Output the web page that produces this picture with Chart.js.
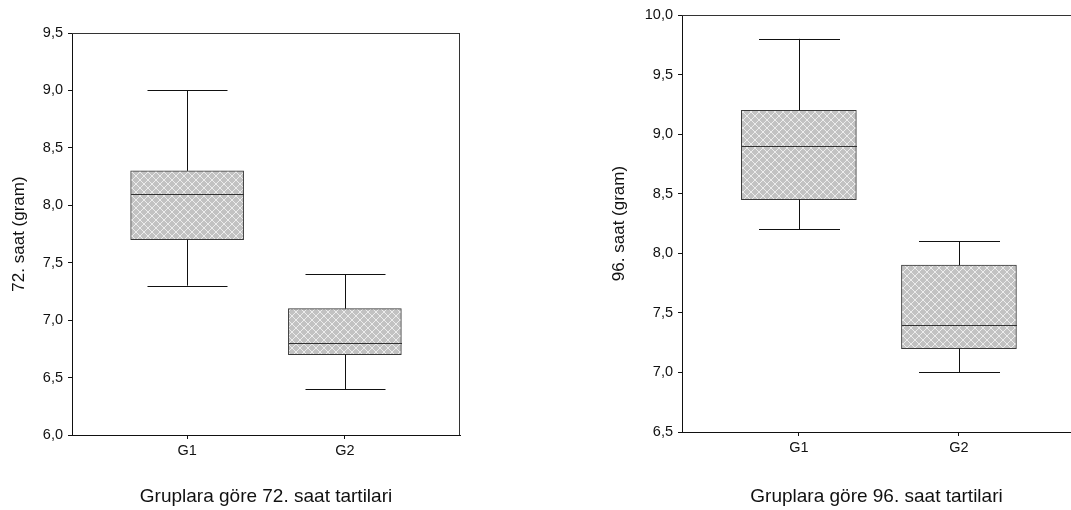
<!DOCTYPE html>
<html>
<head>
<meta charset="utf-8">
<script src="https://cdn.jsdelivr.net/npm/chart.js@4/dist/chart.umd.min.js"></script>
<style>
  html, body { margin: 0; padding: 0; background: #fff; overflow: hidden; }
  #wrap { position: relative; width: 1071px; height: 510px; }
  canvas { position: absolute; top: 0; }
  #left72 { left: 0; }
  #right96 { left: 535px; }
</style>
</head>
<body>
<div id="wrap">
  <canvas id="left72" width="535" height="510"></canvas>
  <canvas id="right96" width="536" height="510"></canvas>
</div>
<script>
// groups on the x axis
const groups = ["G1", "G2"];
const groupPos = [1, 2];

// 72. saat box plot values
const h72Min = [7.3, 6.4];
const h72Q1 = [7.7, 6.7];
const h72Median = [8.1, 6.8];
const h72Q3 = [8.3, 7.1];
const h72Max = [9.0, 7.4];

// 96. saat box plot values
const h96Min = [8.2, 7.0];
const h96Q1 = [8.45, 7.2];
const h96Median = [8.9, 7.4];
const h96Q3 = [9.2, 7.9];
const h96Max = [9.8, 8.1];

const fontFamily = "'Liberation Sans', Arial, sans-serif";

function makeHatch() {
  const c = document.createElement("canvas");
  c.width = 8;
  c.height = 8;
  const g = c.getContext("2d");
  g.fillStyle = "#c2c2c2";
  g.fillRect(0, 0, 8, 8);
  g.fillStyle = "#ececec";
  for (let i = 0; i < 8; i++) {
    g.fillRect(i, i, 1, 1);
    g.fillRect(7 - i, i, 1, 1);
  }
  return g.createPattern(c, "repeat");
}

const fmt = (v) => v.toFixed(1).replace(".", ",");

// whiskers, caps, medians and the plot frame
const boxExtras = {
  id: "boxExtras",
  afterDatasetsDraw(chart, args, opts) {
    const { ctx, chartArea } = chart;
    const x = chart.scales.x;
    const y = chart.scales.y;
    ctx.save();
    ctx.lineWidth = 1;
    opts.min.forEach((_, i) => {
      const cx = Math.round(x.getPixelForValue(groupPos[i])) + 0.5;
      const yMin = y.getPixelForValue(opts.min[i]);
      const yQ1 = y.getPixelForValue(opts.q1[i]);
      const yQ3 = y.getPixelForValue(opts.q3[i]);
      const yMax = y.getPixelForValue(opts.max[i]);
      const yMed = Math.round(y.getPixelForValue(opts.median[i])) + 0.5;
      const cap = opts.capWidth / 2;
      const half = opts.boxWidth / 2;

      ctx.strokeStyle = "#111";
      ctx.beginPath();
      ctx.moveTo(cx, yQ3);
      ctx.lineTo(cx, yMax);
      ctx.moveTo(cx, yQ1);
      ctx.lineTo(cx, yMin);
      ctx.moveTo(cx - cap, Math.round(yMax) + 0.5);
      ctx.lineTo(cx + cap, Math.round(yMax) + 0.5);
      ctx.moveTo(cx - cap, Math.round(yMin) + 0.5);
      ctx.lineTo(cx + cap, Math.round(yMin) + 0.5);
      ctx.stroke();

      ctx.strokeStyle = "#333";
      ctx.beginPath();
      ctx.moveTo(cx - half, yMed);
      ctx.lineTo(cx + half, yMed);
      ctx.stroke();
    });

    // frame
    ctx.strokeStyle = "#333";
    ctx.beginPath();
    const top = Math.round(chartArea.top) + 0.5;
    ctx.moveTo(chartArea.left, top);
    ctx.lineTo(chartArea.right, top);
    if (opts.rightBorder) {
      const r = Math.round(chartArea.right) - 0.5;
      ctx.moveTo(r, top);
      ctx.lineTo(r, chartArea.bottom);
    }
    ctx.stroke();
    ctx.restore();
  }
};

function buildChart(id, cfg) {
  const canvas = document.getElementById(id);
  const ctx = canvas.getContext("2d");

  return new Chart(ctx, {
    type: "bar",
    data: {
      datasets: [{
        data: groupPos.map((p, i) => ({ x: p, y: [cfg.q1[i], cfg.q3[i]] })),
        backgroundColor: makeHatch(),
        borderColor: "#3a3a3a",
        borderWidth: 1,
        borderSkipped: false,
        barThickness: cfg.boxWidth,
      }],
    },
    options: {
      responsive: false,
      animation: false,
      events: [],
      layout: { padding: { top: cfg.padTop, right: cfg.padRight, left: 0, bottom: 0 } },
      plugins: {
        legend: { display: false },
        tooltip: { enabled: false },
        boxExtras: {
          min: cfg.min, q1: cfg.q1, median: cfg.median, q3: cfg.q3, max: cfg.max,
          boxWidth: cfg.boxWidth, capWidth: cfg.capWidth, rightBorder: cfg.rightBorder,
        },
      },
      scales: {
        x: {
          type: "linear",
          offset: false,
          min: 0.27,
          max: cfg.xMax,
          afterBuildTicks: (scale) => { scale.ticks = groupPos.map((v) => ({ value: v })); },
          afterFit: (scale) => { scale.height = cfg.xAxisHeight; },
          ticks: {
            callback: (v) => groups[groupPos.indexOf(v)],
            color: "#111",
            font: { family: fontFamily, size: 14.5 },
            padding: 3,
            maxRotation: 0,
          },
          grid: { offset: false, drawOnChartArea: false, drawTicks: true, tickLength: 4, color: "#111" },
          border: { display: true, color: "#111", width: 1 },
          title: {
            display: true,
            text: cfg.title,
            color: "#111",
            font: { family: fontFamily, size: 19 },
            padding: { top: 0, bottom: 2 },
          },
        },
        y: {
          min: cfg.yMin,
          max: cfg.yMax,
          afterFit: (scale) => { scale.width = cfg.yAxisWidth; },
          ticks: {
            stepSize: 0.5,
            callback: (v) => fmt(v),
            color: "#111",
            font: { family: fontFamily, size: 14.5 },
            padding: 5,
          },
          grid: { drawOnChartArea: false, drawTicks: true, tickLength: 4, color: "#111" },
          border: { display: true, color: "#111", width: 1 },
          title: {
            display: true,
            text: cfg.yTitle,
            color: "#111",
            font: { family: fontFamily, size: 17 },
            padding: { top: cfg.yTitlePad, bottom: 0 },
          },
        },
      },
    },
    plugins: [boxExtras],
  });
}

buildChart("left72", {
  min: h72Min, q1: h72Q1, median: h72Median, q3: h72Q3, max: h72Max,
  yMin: 6.0, yMax: 9.5, xMax: 2.73,
  padTop: 33, padRight: 75, xAxisHeight: 75, yAxisWidth: 72, yTitlePad: 9,
  boxWidth: 113, capWidth: 80, rightBorder: true,
  yTitle: "72. saat (gram)",
  title: "Gruplara göre 72. saat tartilari",
});

buildChart("right96", {
  min: h96Min, q1: h96Q1, median: h96Median, q3: h96Q3, max: h96Max,
  yMin: 6.5, yMax: 10.0, xMax: 2.7,
  padTop: 15, padRight: 0, xAxisHeight: 78, yAxisWidth: 147, yTitlePad: 74,
  boxWidth: 115, capWidth: 81, rightBorder: false,
  yTitle: "96. saat (gram)",
  title: "Gruplara göre 96. saat tartilari",
});
</script>
</body>
</html>
